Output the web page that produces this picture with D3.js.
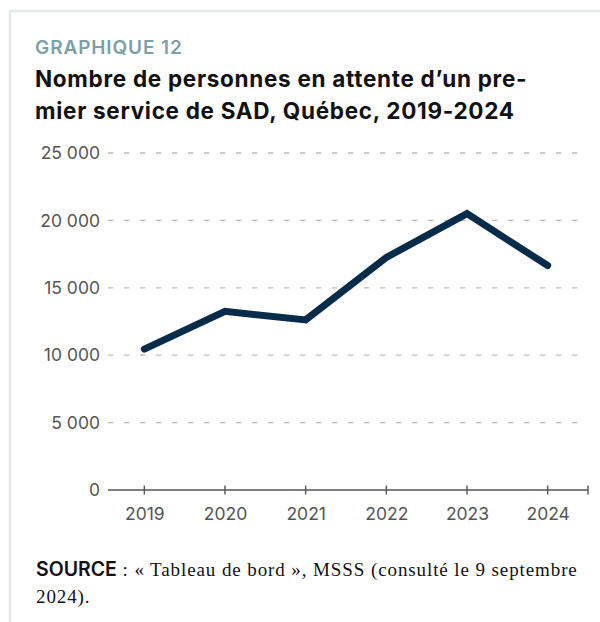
<!DOCTYPE html>
<html lang="fr">
<head>
<meta charset="utf-8">
<script src="https://cdn.jsdelivr.net/npm/d3@7"></script>
<style>
  html, body { margin: 0; padding: 0; background: #fff; }
  svg { display: block; }
</style>
</head>
<body>
<svg id="chart" width="600" height="622"></svg>
<script>
// Personnes en attente d'un premier service de soutien à domicile (SAD)
const years = ["2019", "2020", "2021", "2022", "2023", "2024"];
const waiting = [10450, 13250, 12620, 17250, 20500, 16650];
const yTicks = [0, 5000, 10000, 15000, 20000, 25000];

const svg = d3.select("#chart");
const W = 600, H = 622;
const sans = "Inter, 'Liberation Sans', sans-serif";
const serif = "'Liberation Serif', 'DejaVu Serif', serif";

// cadre clair autour de la figure
svg.append("rect")
  .attr("x", 10).attr("y", 11)
  .attr("width", W + 20).attr("height", H + 20)
  .attr("fill", "none")
  .attr("stroke", "#e3eaed")
  .attr("stroke-width", 2.5);

// en-tête
svg.append("text")
  .attr("x", 35).attr("y", 54)
  .attr("font-family", sans)
  .attr("font-weight", 600)
  .attr("font-size", 19)
  .attr("letter-spacing", 0.9)
  .attr("fill", "#7d9fa8")
  .text("GRAPHIQUE 12");

const titleLines = ["Nombre de personnes en attente d\u2019un pre-",
                    "mier service de SAD, Québec, 2019-2024"];
svg.append("g").selectAll("text").data(titleLines).join("text")
  .attr("x", 35)
  .attr("y", (d, i) => 87 + i * 32)
  .attr("font-family", sans)
  .attr("font-weight", 700)
  .attr("font-size", 22.5)
  .attr("letter-spacing", 0.7)
  .attr("fill", "#111")
  .text(d => d);

// échelles
const x = d3.scalePoint().domain(years).range([104, 588]).padding(0.5);
const y = d3.scaleLinear().domain([0, 25000]).range([490, 153]);
const axisLeft = 108, axisRight = 588;

const fmt = v => d3.format(",")(v).replace(/,/g, " ");

// grille horizontale pointillée
svg.append("g").selectAll("line").data(yTicks.filter(v => v > 0)).join("line")
  .attr("x1", axisLeft).attr("x2", axisRight)
  .attr("y1", d => y(d)).attr("y2", d => y(d))
  .attr("stroke", "#b9b9b9")
  .attr("stroke-width", 1.3)
  .attr("stroke-dasharray", "5.3,10.7");

// axe vertical : étiquettes seulement
const yAxis = svg.append("g")
  .attr("transform", "translate(100,0)")
  .call(d3.axisLeft(y).tickValues(yTicks).tickSize(0).tickPadding(0).tickFormat(fmt));
yAxis.select(".domain").remove();
yAxis.selectAll("text")
  .attr("font-family", sans)
  .attr("font-size", 17.5)
  .attr("fill", "#555");

// axe horizontal
const xAxis = svg.append("g")
  .attr("transform", `translate(0,${y(0)})`)
  .call(d3.axisBottom(x).tickSize(0).tickPadding(18));
xAxis.select(".domain").remove();
xAxis.selectAll("text")
  .attr("font-family", sans)
  .attr("font-size", 17.5)
  .attr("fill", "#555");

const base = svg.append("g").attr("stroke", "#555").attr("stroke-width", 1.4);
base.append("line")
  .attr("x1", axisLeft).attr("x2", axisRight)
  .attr("y1", y(0)).attr("y2", y(0));
base.selectAll("line.tick").data(years.map(x).concat([axisRight])).join("line")
  .attr("class", "tick")
  .attr("x1", d => d).attr("x2", d => d)
  .attr("y1", y(0) - 4.5).attr("y2", y(0) + 4.5);

// courbe
const line = d3.line()
  .x((d, i) => x(years[i]))
  .y(d => y(d));
svg.append("path")
  .datum(waiting)
  .attr("d", line)
  .attr("fill", "none")
  .attr("stroke", "#062c4a")
  .attr("stroke-width", 7)
  .attr("stroke-linecap", "round")
  .attr("stroke-linejoin", "miter");

// source
const src = svg.append("text")
  .attr("x", 36).attr("y", 576)
  .attr("fill", "#111");
src.append("tspan")
  .attr("font-family", sans)
  .attr("font-weight", 600)
  .attr("font-size", 19.5)
  .text("SOURCE");
src.append("tspan")
  .attr("font-family", serif)
  .attr("font-size", 19)
  .attr("letter-spacing", 0.9)
  .text(" : « Tableau de bord », MSSS (consulté le 9 septembre");
svg.append("text")
  .attr("x", 36).attr("y", 603)
  .attr("font-size", 19)
  .attr("letter-spacing", 0.9)
  .attr("font-family", serif)
  .attr("fill", "#111")
  .text("2024).");
</script>
</body>
</html>
